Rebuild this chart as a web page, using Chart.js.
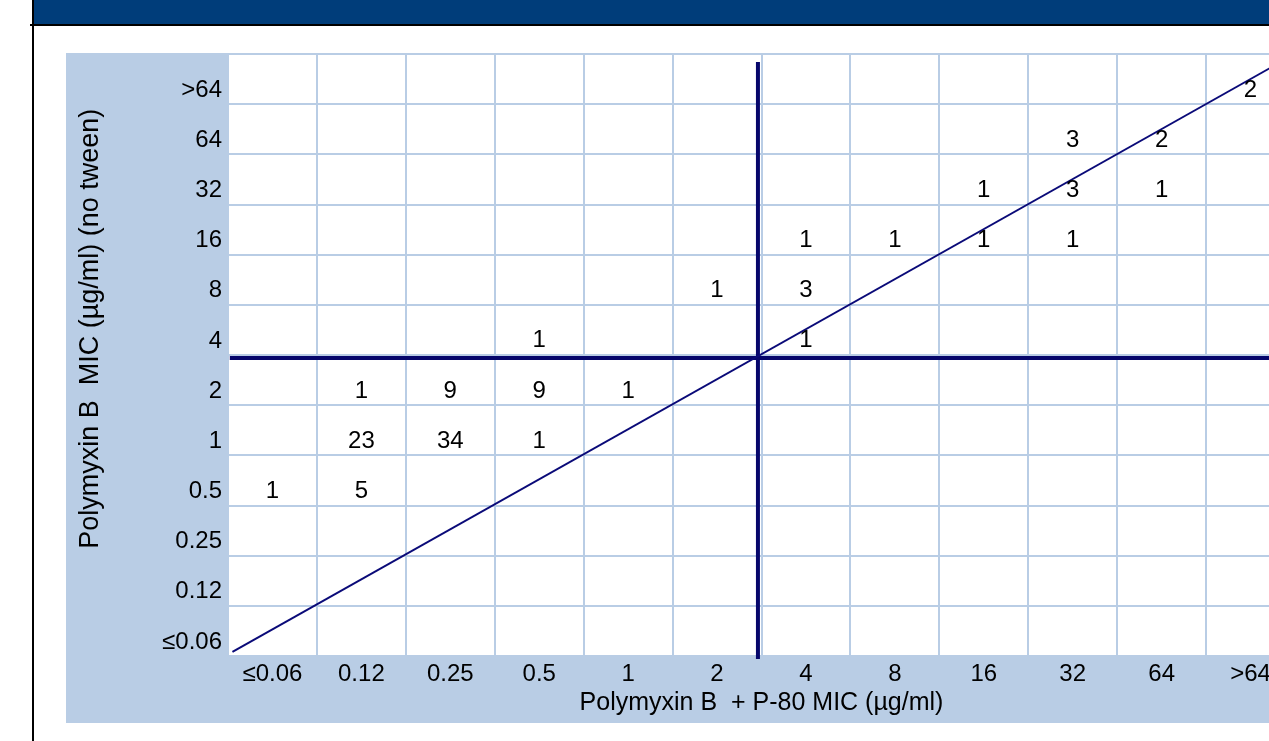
<!DOCTYPE html>
<html>
<head>
<meta charset="utf-8">
<script src="https://cdn.jsdelivr.net/npm/chart.js@4.4.1/dist/chart.umd.min.js"></script>
<style>
html,body{margin:0;padding:0;background:#fff;overflow:hidden;width:1269px;height:741px;}
#wrap{position:absolute;left:0;top:0;width:1300px;height:741px;}
#titlebar{position:absolute;left:32px;top:0;width:1300px;height:24px;background:#003d7a;}
#hline{position:absolute;left:30px;top:23.5px;width:1300px;height:2.5px;background:#000;}
#vline{position:absolute;left:31.5px;top:0;width:2.5px;height:741px;background:#000;}
</style>
</head>
<body>
<div id="wrap"><canvas id="c" width="1300" height="741"></canvas></div>
<div id="titlebar"></div><div id="hline"></div><div id="vline"></div>
<script>
// MIC categories (µg/ml), same for both axes
const xTickLabels = ['≤0.06','0.12','0.25','0.5','1','2','4','8','16','32','64','>64'];
const yTickLabels = ['≤0.06','0.12','0.25','0.5','1','2','4','8','16','32','64','>64'];

// isolate groups: MIC with P-80 (x), MIC without tween (y), number of isolates
const withP80MIC   = ['>64', '32','64', '16','32','64', '4','8','16','32', '2','4', '0.5','4', '0.12','0.25','0.5','1', '0.12','0.25','0.5', '≤0.06','0.12'];
const noTweenMIC   = ['>64', '64','64', '32','32','32', '16','16','16','16', '8','8', '4','4', '2','2','2','2', '1','1','1', '0.5','0.5'];
const isolateCount = [2, 3,2, 1,3,1, 1,1,1,1, 1,3, 1,1, 1,9,9,1, 23,34,1, 1,5];

// reference lines in category-index units
const agreementLine = [{x:0.05, y:0.08}, {x:12, y:12}];
const breakpointVertical = [{x:5.96, y:-0.06}, {x:5.96, y:11.84}];
const breakpointHorizontal = [{x:0.02, y:5.94}, {x:12, y:5.94}];

const FONT = '"Liberation Sans", Arial, sans-serif';
Chart.defaults.font.family = FONT;
Chart.defaults.color = '#000';

const cellPoints = withP80MIC.map((xm, i) => ({
  x: xTickLabels.indexOf(xm) + 0.5,
  y: yTickLabels.indexOf(noTweenMIC[i]) + 0.5,
  n: isolateCount[i]
}));

const panelPlugin = {
  id: 'panel',
  beforeDraw(chart) {
    const {ctx, chartArea: a} = chart;
    ctx.save();
    ctx.fillStyle = '#b9cde5';
    ctx.fillRect(66, 53, chart.width - 66, 723 - 53);
    ctx.fillStyle = '#ffffff';
    ctx.fillRect(a.left, a.top, a.right - a.left, a.bottom - a.top);
    ctx.restore();
  }
};

const countLabels = {
  id: 'countLabels',
  afterDatasetsDraw(chart) {
    const {ctx} = chart;
    const meta = chart.getDatasetMeta(0);
    const ds = chart.data.datasets[0];
    ctx.save();
    ctx.font = '24px ' + FONT;
    ctx.fillStyle = '#000';
    ctx.textAlign = 'center';
    ctx.textBaseline = 'middle';
    meta.data.forEach((pt, i) => {
      ctx.fillText(String(ds.data[i].n), pt.x, pt.y + 10.8);
    });
    ctx.restore();
  }
};

const intTicks = s => { s.ticks = Array.from({length: 13}, (_, i) => ({value: i})); };
const gridStyle = {color: '#b9cde5', lineWidth: 2, drawTicks: false};

new Chart(document.getElementById('c'), {
  type: 'scatter',
  data: {
    datasets: [
      {label: 'isolates', data: cellPoints, pointRadius: 0, showLine: false},
      {label: 'agreement', data: agreementLine, showLine: true, borderColor: '#0a0a78', borderWidth: 2, pointRadius: 0, clip: false},
      {label: 'bp-v', data: breakpointVertical, showLine: true, borderColor: '#06066b', borderWidth: 4, pointRadius: 0, clip: false},
      {label: 'bp-h', data: breakpointHorizontal, showLine: true, borderColor: '#06066b', borderWidth: 4, pointRadius: 0, clip: false}
    ]
  },
  options: {
    responsive: false,
    animation: false,
    events: [],
    layout: {padding: {left: 0, top: 54, right: 5, bottom: 17}},
    plugins: {legend: {display: false}, tooltip: {enabled: false}},
    scales: {
      x: {
        type: 'linear', min: 0, max: 12, position: 'bottom',
        afterBuildTicks: intTicks,
        afterFit: s => { s.height = 68; },
        grid: gridStyle,
        border: {display: false},
        ticks: {
          autoSkip: false, maxRotation: 0, padding: 4, labelOffset: 44.46,
          font: {size: 24}, color: '#000',
          callback: v => xTickLabels[v] ?? ''
        },
        title: {display: true, text: 'Polymyxin B  + P-80 MIC (µg/ml)', font: {size: 25}, color: '#000', padding: {top: 0, bottom: 5.5}}
      },
      y: {
        type: 'linear', min: 0, max: 12, position: 'left',
        afterBuildTicks: intTicks,
        afterFit: s => { s.width = 228; },
        grid: gridStyle,
        border: {display: false},
        ticks: {
          autoSkip: false, padding: 6, labelOffset: -14,
          font: {size: 24}, color: '#000',
          callback: v => yTickLabels[v] ?? ''
        },
        title: {display: true, text: '       Polymyxin B  MIC (µg/ml) (no tween)', font: {size: 27}, color: '#000', padding: {top: 74, bottom: 0}}
      }
    }
  },
  plugins: [panelPlugin, countLabels]
});
</script>
</body>
</html>
